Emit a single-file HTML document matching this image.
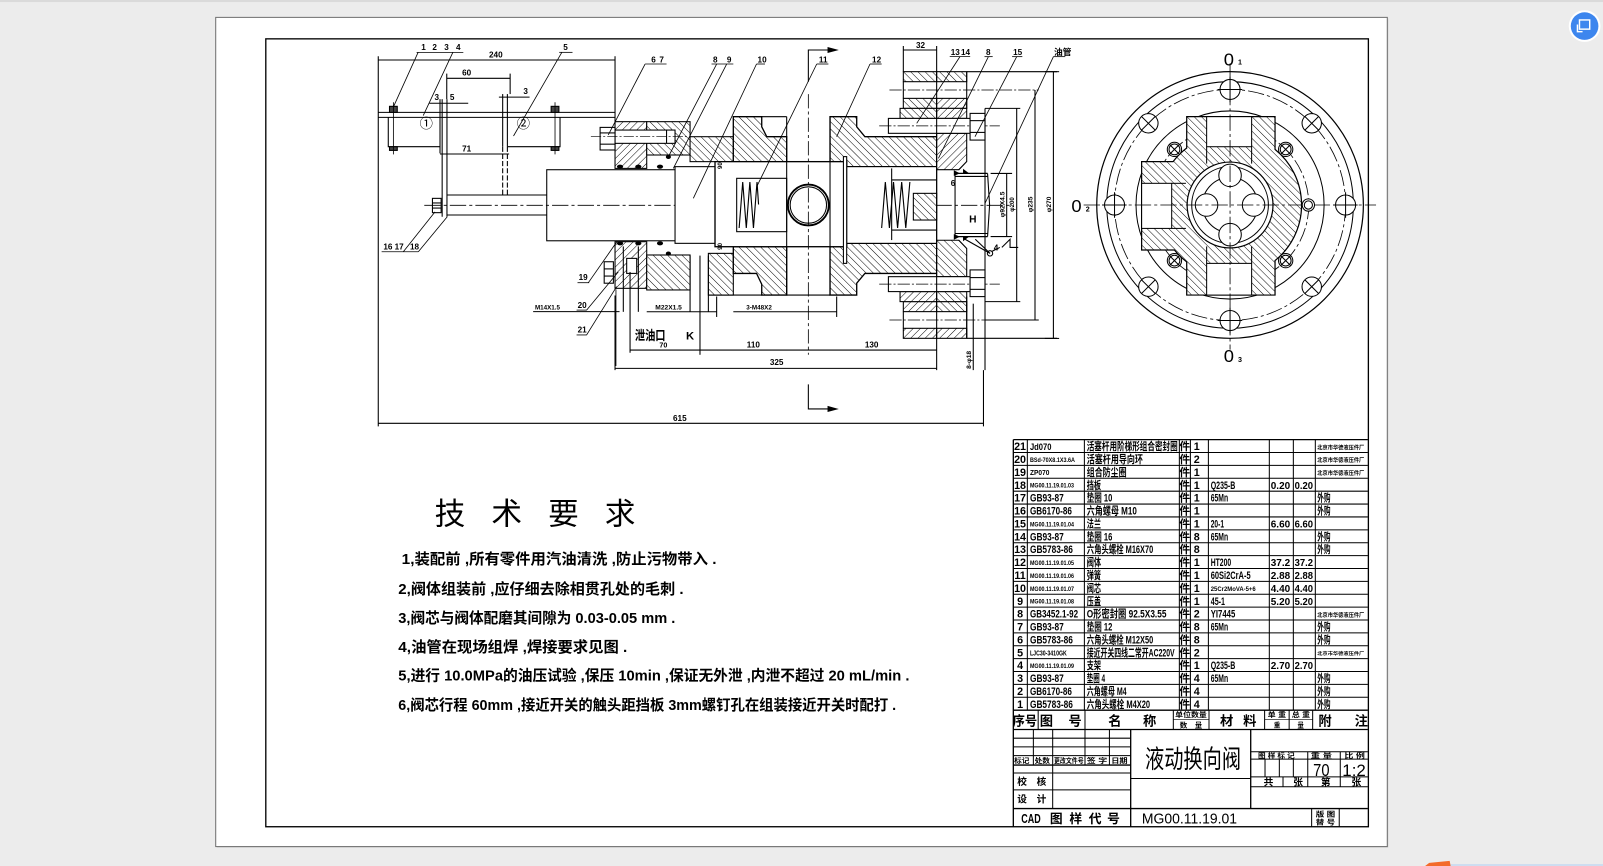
<!DOCTYPE html>
<html><head><meta charset="utf-8"><style>
html,body{margin:0;padding:0;background:#ececec;overflow:hidden}
svg{display:block}
.t{font-family:"Liberation Sans","Noto Sans CJK SC",sans-serif;font-weight:bold;fill:#000;stroke:none}
.n{font-family:"Liberation Sans","Noto Sans CJK SC",sans-serif;font-weight:normal;fill:#000;stroke:none}
</style></head><body>
<svg width="1603" height="866" viewBox="0 0 1568 847" preserveAspectRatio="none" xmlns="http://www.w3.org/2000/svg">
<defs>
<pattern id="hA" width="5" height="5" patternUnits="userSpaceOnUse" patternTransform="rotate(45)"><rect width="5" height="5" fill="#fff"/><line x1="0" y1="0" x2="0" y2="5" stroke="#000" stroke-width="0.95"/></pattern>
<pattern id="hB" width="5" height="5" patternUnits="userSpaceOnUse" patternTransform="rotate(-45)"><rect width="5" height="5" fill="#fff"/><line x1="0" y1="0" x2="0" y2="5" stroke="#000" stroke-width="0.95"/></pattern>
</defs>

<rect x="0" y="0" width="1568" height="847" fill="#ececec"/>
<rect x="0" y="0" width="1568" height="2" fill="#dadada"/>
<!-- page -->
<rect x="212" y="18" width="1146" height="811" fill="#cfcfcf"/>
<rect x="211" y="17" width="1146" height="811" fill="#fff" stroke="#707070" stroke-width="1"/>
<!-- inner frame -->
<rect x="260" y="38" width="1078.5" height="770.6" fill="none" stroke="#000" stroke-width="1.3"/>

<!-- icon top right -->
<circle cx="1550" cy="25.5" r="15.5" fill="#fff"/>
<circle cx="1550" cy="25.5" r="13.5" fill="#3d86ee"/>
<rect x="1545" y="19.5" width="10" height="9" fill="none" stroke="#fff" stroke-width="1.4"/>
<path d="M1543,24 V31 H1548" fill="none" stroke="#fff" stroke-width="1.4"/>
<!-- bottom decorations -->
<polygon points="1394,847 1398,844 1418,842 1419,847" fill="#f36b2a"/>
<line x1="1419" y1="846" x2="1568" y2="846" stroke="#bcd4f2" stroke-width="1.2"/>

<!-- ================= MAIN SECTION VIEW ================= -->
<g stroke="#000" fill="none" stroke-width="1.05">
<!-- overall dims -->
<line x1="370" y1="58.7" x2="601.6" y2="58.7"/>
<line x1="370" y1="55" x2="370" y2="417"/>
<line x1="601.6" y1="55" x2="601.6" y2="119"/>
<line x1="370" y1="414" x2="962" y2="414"/>
<line x1="962" y1="362" x2="962" y2="417"/>

<!-- left switch bracket -->
<line x1="370" y1="109.9" x2="601.6" y2="109.9"/>
<line x1="370" y1="114.8" x2="601.6" y2="114.8"/>
<polyline points="379.8,114.8 379.8,143.5 430.4,143.5"/>
<polyline points="496.3,143.5 547.8,143.5 547.8,114.8"/>
<line x1="430.4" y1="97" x2="430.4" y2="150"/>
<line x1="432.5" y1="97" x2="432.5" y2="212"/>
<line x1="437.2" y1="97" x2="437.2" y2="212"/>
<line x1="491.7" y1="92" x2="491.7" y2="143.5"/>
<line x1="496.3" y1="92" x2="496.3" y2="143.5"/>
<line x1="491.7" y1="143.5" x2="491.7" y2="190.7" stroke-dasharray="5,2"/>
<line x1="496.3" y1="143.5" x2="496.3" y2="190.7" stroke-dasharray="5,2"/>
<line x1="437" y1="76.6" x2="499" y2="76.6"/>
<line x1="437" y1="72" x2="437" y2="97"/><line x1="499" y1="72" x2="499" y2="92"/>
<line x1="430.4" y1="150.6" x2="498" y2="150.6"/>
<line x1="420" y1="101" x2="458" y2="101"/>
<line x1="488" y1="95" x2="518" y2="95"/>
<!-- bolts 1-4 -->
<rect x="381" y="104" width="7.6" height="5.9" fill="#444"/>
<rect x="381" y="143.5" width="7.6" height="3.6" fill="#444"/>
<line x1="384.8" y1="100" x2="384.8" y2="151" stroke-width="0.8"/>
<rect x="539.1" y="104" width="7.6" height="5.9" fill="#444"/>
<rect x="539.1" y="143.5" width="7.6" height="3.6" fill="#444"/>
<line x1="542.9" y1="100" x2="542.9" y2="151" stroke-width="0.8"/>
<!-- rod & lower bracket -->
<line x1="437" y1="190.7" x2="534.8" y2="190.7"/>
<line x1="437" y1="210.3" x2="534.8" y2="210.3"/>
<rect x="423" y="194" width="8.5" height="14" fill="#fff"/>
<line x1="423" y1="198.5" x2="431.5" y2="198.5"/><line x1="423" y1="203.5" x2="431.5" y2="203.5"/>
<rect x="534.8" y="166" width="125.5" height="69.5" fill="#fff"/>
<line x1="415" y1="200.8" x2="990" y2="200.8" stroke-dasharray="16,3,3,3" stroke-width="0.8"/>

<!-- body upper -->
<rect x="601.6" y="119" width="31" height="45.7" fill="url(#hA)"/>
<rect x="632.6" y="119" width="42.4" height="32.6" fill="url(#hB)"/>
<rect x="675" y="133.7" width="42.3" height="24.4" fill="url(#hB)"/>
<path d="M717.3,114.1 H745.1 V124 L750,133.7 H769.5 V158.1 H717.3 Z" fill="url(#hB)" stroke-width="1.3"/>
<path d="M811.9,114.1 H838 V124 L846,133.7 H916.2 V163 H828.2 V158.1 H811.9 Z" fill="url(#hB)" stroke-width="1.3"/>
<line x1="745.1" y1="114.1" x2="769.5" y2="114.1"/>
<!-- bolt 6/7 -->
<rect x="601.6" y="127.2" width="58.7" height="13" fill="#fff"/>
<line x1="652" y1="127.2" x2="652" y2="140.2"/>
<rect x="587" y="124.6" width="14.6" height="22.1" fill="#fff"/>
<line x1="587" y1="130" x2="601.6" y2="130"/><line x1="587" y1="141" x2="601.6" y2="141"/>
<line x1="578" y1="133.7" x2="672" y2="133.7" stroke-dasharray="10,2,2,2" stroke-width="0.7"/>
<!-- body lower -->
<rect x="601.6" y="236.4" width="31" height="45.6" fill="url(#hA)"/>
<rect x="632.6" y="249.4" width="42.4" height="34.2" fill="url(#hB)"/>
<rect x="692.9" y="247.8" width="24.4" height="40.8" fill="url(#hB)"/>
<path d="M717.3,241.3 H769.5 V288.6 H745.1 V278 L740,267.4 H717.3 Z" fill="url(#hB)" stroke-width="1.3"/>
<path d="M811.9,241.3 H828.2 V238 H916.2 V267.4 H846 L838,277 V288.6 H811.9 Z" fill="url(#hB)" stroke-width="1.3"/>
<line x1="692.9" y1="288.6" x2="745.1" y2="288.6"/>
<line x1="769.5" y1="288.6" x2="811.9" y2="288.6"/>
<!-- lower left nut / drain -->
<rect x="591" y="256" width="9" height="21" fill="#fff"/>
<line x1="591" y1="263" x2="600" y2="263"/><line x1="591" y1="270" x2="600" y2="270"/>
<rect x="613" y="252.7" width="9.8" height="14.7" fill="#fff"/>
<line x1="609.7" y1="241" x2="609.7" y2="305"/>
<line x1="616.3" y1="266" x2="616.3" y2="345"/>
<line x1="624.4" y1="241" x2="624.4" y2="305"/>
<line x1="675" y1="250" x2="675" y2="305"/>
<line x1="684.7" y1="250" x2="684.7" y2="347"/>
<line x1="692.9" y1="250" x2="692.9" y2="305"/>
<!-- seals -->
<g fill="#000" stroke="none">
<ellipse cx="606.5" cy="163" rx="3" ry="2"/><ellipse cx="624.4" cy="163" rx="3" ry="2"/><ellipse cx="645.6" cy="163" rx="3" ry="2"/><ellipse cx="653.8" cy="153.5" rx="2.5" ry="2"/>
<ellipse cx="606.5" cy="238" rx="3" ry="2"/><ellipse cx="624.4" cy="238" rx="3" ry="2"/><ellipse cx="645.6" cy="238" rx="3" ry="2"/><ellipse cx="653.8" cy="248" rx="2.5" ry="2"/>
<circle cx="917.5" cy="154" r="1.7"/><circle cx="917.5" cy="247" r="1.7"/>
</g>
<!-- rod end / spool -->
<rect x="660.3" y="163" width="39.1" height="75" fill="#fff"/>
<rect x="699.4" y="158.1" width="128.8" height="83.2" fill="#fff" stroke-width="1.3"/>
<rect x="720.6" y="174.4" width="48.9" height="52.2" fill="none"/>
<rect x="828.2" y="163" width="88" height="75" fill="#fff"/>
<rect x="825" y="153.2" width="3.2" height="104.4" fill="#fff"/>
<line x1="872.2" y1="164.7" x2="872.2" y2="234.8"/>
<line x1="872.2" y1="176" x2="916.2" y2="176"/><line x1="872.2" y1="225" x2="916.2" y2="225"/>
<rect x="893.4" y="189.1" width="22.8" height="26.1" fill="url(#hB)"/>
<line x1="769.5" y1="114.1" x2="769.5" y2="288.6"/>
<line x1="811.9" y1="114.1" x2="811.9" y2="288.6"/>
<polyline points="723,223 726.5,178 730,223 733.5,178 737,223 740.5,178 742,200" stroke-width="1.1"/>
<polyline points="862.4,223 866,178 870,223 874,178 878,223 882,178 886,223 890,178" stroke-width="1.1"/>
<circle cx="790.7" cy="200.5" r="20" fill="#fff" stroke-width="1.8"/>
<circle cx="790.7" cy="200.5" r="17.8"/>
<line x1="790.7" y1="92" x2="790.7" y2="347" stroke-dasharray="14,3,3,3" stroke-width="0.8"/>
<!-- K view arrows -->
<polyline points="790.7,80 790.7,48.9 811,48.9"/>
<polygon points="818.5,48.9 810,46.6 810,51.2" fill="#000"/>
<polyline points="790.7,376 790.7,400 811,400"/>
<polygon points="818.5,400 810,397.7 810,402.3" fill="#000"/>

<!-- right flange (upper, mirrored) -->
<g id="rf">
<rect x="883.6" y="70.1" width="32.6" height="9.8" fill="url(#hB)"/>
<rect x="916.2" y="70.1" width="29.4" height="9.8" fill="url(#hB)"/>
<rect x="883.6" y="96.2" width="32.6" height="9.8" fill="url(#hB)"/>
<rect x="916.2" y="96.2" width="29.4" height="9.8" fill="url(#hA)"/>
<line x1="883.6" y1="79.9" x2="883.6" y2="96.2"/>
<line x1="945.6" y1="70.1" x2="945.6" y2="106"/>
<line x1="870" y1="88" x2="1016" y2="88" stroke-dasharray="12,2,2,2" stroke-width="0.7"/>
<rect x="880.4" y="106" width="35.8" height="9.8" fill="url(#hB)"/>
<rect x="916.2" y="106" width="29.4" height="9.8" fill="url(#hA)"/>
<path d="M916.2,130.4 H945.6 V158 L938,166 H916.2 Z" fill="url(#hA)"/>
<rect x="869" y="115.8" width="79.9" height="14.6" fill="#fff"/>
<line x1="860" y1="123.1" x2="978" y2="123.1" stroke-dasharray="12,2,2,2" stroke-width="0.7"/>
<rect x="948.9" y="110.9" width="14.6" height="26.1" fill="#fff"/>
<line x1="948.9" y1="118" x2="963.5" y2="118"/><line x1="948.9" y1="129.5" x2="963.5" y2="129.5"/>
<line x1="945.6" y1="70.1" x2="1034" y2="70.1"/>
<line x1="963.5" y1="106" x2="998" y2="106"/>
<line x1="934.2" y1="169.6" x2="966" y2="169.6" stroke-width="1.2"/>
<line x1="934.2" y1="172.6" x2="966" y2="172.6"/>
<line x1="934.2" y1="169.6" x2="934.2" y2="200.5"/>
<polygon points="933,166.5 939,169.6 933,172" fill="#000" stroke="none"/>
<polygon points="942,165 948,169.6 942,169.6" fill="#000" stroke="none"/>
<line x1="966" y1="169.6" x2="968" y2="200.5"/>
<line x1="969" y1="169.6" x2="990" y2="169.6"/>
</g>
<use href="#rf" transform="matrix(1 0 0 -1 0 401)"/>
<line x1="916.2" y1="45" x2="916.2" y2="362"/>
<line x1="963.5" y1="106" x2="963.5" y2="362"/>
<line x1="883.6" y1="45" x2="883.6" y2="70.1"/>
<line x1="883.6" y1="48.9" x2="916.2" y2="48.9"/>
<line x1="945.6" y1="290" x2="945.6" y2="330"/>
<line x1="952" y1="297" x2="952" y2="362"/>
<line x1="994.5" y1="106" x2="994.5" y2="295"/>
<line x1="1012.4" y1="88" x2="1012.4" y2="313"/>
<line x1="1030.4" y1="70.1" x2="1030.4" y2="331"/>
<line x1="984.7" y1="169.6" x2="984.7" y2="231.5"/>
<line x1="963.5" y1="313" x2="1016" y2="313"/>
<!-- weld symbol 4 -->
<circle cx="968.4" cy="247.8" r="2.6" fill="#fff"/>
<line x1="954" y1="234" x2="968.4" y2="247.8"/>
<line x1="944" y1="234" x2="968.4" y2="247.8"/>
<line x1="970" y1="246" x2="978" y2="242"/>
<polyline points="980,242 988,234 988,242 996,242"/>

<!-- bottom dims -->
<line x1="616.3" y1="342.4" x2="916.2" y2="342.4"/>
<line x1="601.6" y1="289" x2="601.6" y2="362"/>
<line x1="601.6" y1="360.3" x2="916.2" y2="360.3"/>
<line x1="521.5" y1="304.8" x2="606" y2="304.8"/>
<line x1="632.6" y1="304.9" x2="701" y2="304.9"/>
<line x1="717.3" y1="304.9" x2="818.4" y2="304.9"/>
<line x1="701" y1="290" x2="701" y2="310"/><line x1="818.4" y1="290" x2="818.4" y2="310"/>

<!-- leaders -->
<g stroke-width="0.8">
<line x1="407.5" y1="51.2" x2="453.2" y2="51.2"/>
<line x1="409" y1="51.2" x2="384.8" y2="104.6"/>
<line x1="443" y1="51.2" x2="414" y2="113"/>
<line x1="547" y1="51.2" x2="560" y2="51.2"/>
<line x1="549.6" y1="51.2" x2="502.3" y2="133"/>
<line x1="373.3" y1="246.2" x2="409.2" y2="246.2"/>
<line x1="394.5" y1="246.2" x2="425.5" y2="207.2"/>
<line x1="409.2" y1="246.2" x2="437.5" y2="212"/>
<line x1="564.9" y1="276.5" x2="576.3" y2="276.5"/>
<line x1="575.5" y1="276.5" x2="603.3" y2="236.6"/>
<line x1="564" y1="303.3" x2="574" y2="303.3"/>
<line x1="573.8" y1="303.3" x2="604.8" y2="265.9"/>
<line x1="564" y1="327.6" x2="574" y2="327.6"/>
<line x1="573.8" y1="327.6" x2="603.2" y2="280.3"/>
<line x1="602.5" y1="283" x2="602.5" y2="358"/>
<line x1="631" y1="62.6" x2="652" y2="62.6"/>
<line x1="631" y1="62.6" x2="595" y2="132"/>
<line x1="696" y1="62.6" x2="717.3" y2="62.6"/>
<line x1="701" y1="62.6" x2="653.8" y2="153.2"/>
<line x1="710.8" y1="62.6" x2="658.6" y2="164.7"/>
<line x1="740" y1="62.6" x2="748.3" y2="62.6"/>
<line x1="740" y1="62.6" x2="678.2" y2="194"/>
<line x1="798.9" y1="62.6" x2="810.3" y2="62.6"/>
<line x1="798.9" y1="62.6" x2="740.2" y2="182.6"/>
<line x1="851" y1="62.6" x2="862.4" y2="62.6"/>
<line x1="851" y1="62.6" x2="818.4" y2="133.7"/>
<line x1="929" y1="55.4" x2="949" y2="55.4"/>
<line x1="939" y1="55.4" x2="896.7" y2="120.6"/>
<line x1="963" y1="55.4" x2="971" y2="55.4"/>
<line x1="966.8" y1="55.4" x2="917.9" y2="154.9"/>
<line x1="990" y1="55.4" x2="1000" y2="55.4"/>
<line x1="994.5" y1="55.4" x2="953.7" y2="133.7"/>
<line x1="1030.4" y1="55.4" x2="1042" y2="55.4"/>
<line x1="1030.4" y1="55.4" x2="963.5" y2="198.9"/>
</g>
</g>

<!-- drawing labels -->
<g class="t" font-size="8">
<text x="485" y="56" text-anchor="middle">240</text>
<text x="412" y="49">1</text><text x="423" y="49">2</text><text x="434.5" y="49">3</text><text x="446" y="49">4</text>
<text x="551" y="49">5</text>
<text x="456.5" y="74" text-anchor="middle">60</text>
<text x="456.5" y="148" text-anchor="middle">71</text>
<text x="425" y="98">3</text><text x="440" y="98">5</text>
<text x="512" y="92">3</text>
<text x="375" y="244">16</text><text x="386" y="244">17</text><text x="401" y="244">18</text>
<text x="566" y="274">19</text><text x="565" y="301">20</text><text x="565" y="325">21</text>
<text x="523.3" y="302.5" font-size="6.5" textLength="24.5" lengthAdjust="spacingAndGlyphs">M14X1.5</text>
<text x="641" y="302.5" font-size="6.5" textLength="26" lengthAdjust="spacingAndGlyphs">M22X1.5</text>
<text x="730" y="302.5" font-size="6.5" textLength="25" lengthAdjust="spacingAndGlyphs">3-M48X2</text>
<text x="637" y="61">6</text><text x="645" y="61">7</text>
<text x="697.5" y="61">8</text><text x="711" y="61">9</text>
<text x="741" y="61">10</text>
<text x="801" y="61">11</text>
<text x="853" y="61">12</text>
<text x="896" y="47">32</text>
<text x="930" y="54">13</text><text x="940" y="54">14</text>
<text x="964.5" y="54">8</text>
<text x="991" y="54">15</text>
<text x="1031" y="54" font-size="8.5">油管</text>
<text x="648.9" y="340" text-anchor="middle" font-size="7">70</text>
<text x="736.9" y="340" text-anchor="middle">110</text>
<text x="852.6" y="340" text-anchor="middle">130</text>
<text x="759.7" y="357" text-anchor="middle">325</text>
<text x="665" y="412" text-anchor="middle">615</text>
<text x="948" y="217.5" font-size="10">H</text>
<text x="930" y="182" font-size="8">6</text>
<text x="972" y="245" font-size="8">4</text>
<text x="706" y="162" font-size="6" transform="rotate(-90 706 162)" text-anchor="middle">90</text>
<text x="706" y="241" font-size="6" transform="rotate(-90 706 241)" text-anchor="middle">90</text>
<text x="982.5" y="200" font-size="6.5" transform="rotate(-90 982.5 200)" text-anchor="middle">φ92X4.5</text>
<text x="992" y="200" font-size="6" transform="rotate(-90 992 200)" text-anchor="middle">φ200</text>
<text x="1010" y="200" font-size="6.5" transform="rotate(-90 1010 200)" text-anchor="middle">φ235</text>
<text x="1028" y="200" font-size="6.5" transform="rotate(-90 1028 200)" text-anchor="middle">φ270</text>
<text x="950" y="352" font-size="6.5" transform="rotate(-90 950 352)" text-anchor="middle">8-φ18</text>
</g>
<text class="t" x="621" y="332.5" font-size="13" textLength="30" lengthAdjust="spacingAndGlyphs">泄油口</text>
<text class="t" x="671" y="332" font-size="11">K</text>
<text class="n" x="417" y="125" font-size="13" text-anchor="middle">①</text>
<text class="n" x="512" y="125" font-size="13" text-anchor="middle">②</text>

<!-- ================= RIGHT VIEW ================= -->
<g stroke="#000" fill="none" stroke-width="1">
<circle cx="1203.2" cy="200.5" r="130.4" stroke-width="1.2"/>
<circle cx="1203.2" cy="200.5" r="120.6"/>
<circle cx="1203.2" cy="200.5" r="113" stroke-dasharray="16,3,3,3" stroke-width="0.8"/>
<circle cx="1203.2" cy="200.5" r="92"/>
<circle cx="1203.2" cy="200.5" r="77" stroke-dasharray="14,3,3,3" stroke-width="0.8"/>
<path d="M1160.8,114.1 H1247.2 V146.1 A70,70 0 0 1 1247.2,254.9 V288.6 H1160.8 V256.2 A70,70 0 0 1 1148.8,244.5 H1116.7 V158.1 H1147.5 A70,70 0 0 1 1160.8,144.8 Z" fill="url(#hB)" stroke-width="1.2"/>
<rect x="1180.3" y="114.1" width="44" height="29.4" fill="#fff"/>
<rect x="1180.3" y="257.6" width="44" height="31" fill="#fff"/>
<line x1="1180.3" y1="143.5" x2="1180.3" y2="160"/><line x1="1224.3" y1="143.5" x2="1224.3" y2="160"/>
<line x1="1180.3" y1="241" x2="1180.3" y2="257.6"/><line x1="1224.3" y1="241" x2="1224.3" y2="257.6"/>
<rect x="1116.7" y="179.3" width="29.4" height="44.1" fill="#fff"/>
<line x1="1146.1" y1="179.3" x2="1160" y2="179.3"/><line x1="1146.1" y1="223.4" x2="1160" y2="223.4"/>
<circle cx="1203.2" cy="200.5" r="42" fill="#fff" stroke-width="1.2"/>
<circle cx="1203.2" cy="200.5" r="37.5"/>
<circle cx="1203.2" cy="200.5" r="27"/>
<circle cx="1203.2" cy="171.5" r="11" fill="#fff"/>
<circle cx="1203.2" cy="229.5" r="11" fill="#fff"/>
<circle cx="1180.2" cy="200.5" r="11" fill="#fff"/>
<circle cx="1226.2" cy="200.5" r="11" fill="#fff"/>
<line x1="1060" y1="200.5" x2="1346" y2="200.5" stroke-dasharray="16,3,3,3" stroke-width="0.8"/>
<line x1="1203.2" y1="62" x2="1203.2" y2="342" stroke-dasharray="16,3,3,3" stroke-width="0.8"/>
<!-- holes on axes -->
<circle cx="1203.2" cy="87.5" r="9.8" fill="#fff"/><line x1="1191" y1="87.5" x2="1215" y2="87.5"/><line x1="1203.2" y1="75" x2="1203.2" y2="100"/>
<circle cx="1203.2" cy="313.5" r="9.8" fill="#fff"/><line x1="1191" y1="313.5" x2="1215" y2="313.5"/><line x1="1203.2" y1="301" x2="1203.2" y2="326"/>
<circle cx="1090.2" cy="200.5" r="9.8" fill="#fff"/><line x1="1078" y1="200.5" x2="1102" y2="200.5"/><line x1="1090.2" y1="188" x2="1090.2" y2="213"/>
<circle cx="1316.2" cy="200.5" r="9.8" fill="#fff"/><line x1="1304" y1="200.5" x2="1328" y2="200.5"/><line x1="1316.2" y1="188" x2="1316.2" y2="213"/>
<!-- diagonal holes -->
<g>
<circle cx="1283.1" cy="120.6" r="9.5" fill="#fff"/><path d="M1276.4,113.9 L1289.8,127.3 M1289.8,113.9 L1276.4,127.3"/>
<circle cx="1123.3" cy="120.6" r="9.5" fill="#fff"/><path d="M1116.6,113.9 L1130,127.3 M1130,113.9 L1116.6,127.3"/>
<circle cx="1123.3" cy="280.4" r="9.5" fill="#fff"/><path d="M1116.6,273.7 L1130,287.1 M1130,273.7 L1116.6,287.1"/>
<circle cx="1283.1" cy="280.4" r="9.5" fill="#fff"/><path d="M1276.4,273.7 L1289.8,287.1 M1289.8,273.7 L1276.4,287.1"/>
</g>
<!-- small holes -->
<g>
<circle cx="1257.6" cy="146.1" r="7" fill="#fff"/><circle cx="1257.6" cy="146.1" r="5.3"/><path d="M1252.6,141.1 L1262.6,151.1 M1262.6,141.1 L1252.6,151.1"/>
<circle cx="1148.8" cy="146.1" r="7" fill="#fff"/><circle cx="1148.8" cy="146.1" r="5.3"/><path d="M1143.8,141.1 L1153.8,151.1 M1153.8,141.1 L1143.8,151.1"/>
<circle cx="1148.8" cy="254.9" r="7" fill="#fff"/><circle cx="1148.8" cy="254.9" r="5.3"/><path d="M1143.8,249.9 L1153.8,259.9 M1153.8,249.9 L1143.8,259.9"/>
<circle cx="1257.6" cy="254.9" r="7" fill="#fff"/><circle cx="1257.6" cy="254.9" r="5.3"/><path d="M1252.6,249.9 L1262.6,259.9 M1262.6,249.9 L1252.6,259.9"/>
</g>
<circle cx="1279.8" cy="200.5" r="6" fill="#fff"/><circle cx="1279.8" cy="200.5" r="4"/>
<line x1="1022" y1="70.1" x2="1036" y2="70.1"/><line x1="1022" y1="331" x2="1036" y2="331"/>
</g>
<g class="n">
<text x="1197" y="64" font-size="17" textLength="10" lengthAdjust="spacingAndGlyphs">0</text><text x="1211" y="63" font-size="7" font-weight="bold">1</text>
<text x="1048" y="207.5" font-size="17" textLength="10" lengthAdjust="spacingAndGlyphs">0</text><text x="1062" y="207" font-size="7" font-weight="bold">2</text>
<text x="1197" y="354" font-size="17" textLength="10" lengthAdjust="spacingAndGlyphs">0</text><text x="1211" y="354" font-size="7" font-weight="bold">3</text>
</g>

<!-- ================= TECH REQUIREMENTS ================= -->
<g class="n" font-size="30" text-anchor="middle" font-family="'Noto Sans CJK SC',sans-serif">
<text x="440.2" y="513">技</text><text x="495.6" y="513">术</text><text x="551.1" y="513">要</text><text x="606.5" y="513">求</text>
</g>
<g class="t" font-size="14.5">
<text x="392.9" y="551.5" textLength="308" lengthAdjust="spacingAndGlyphs">1,装配前 ,所有零件用汽油清洗 ,防止污物带入 .</text>
<text x="389.6" y="580.8" textLength="279" lengthAdjust="spacingAndGlyphs">2,阀体组装前 ,应仔细去除相贯孔处的毛刺 .</text>
<text x="389.6" y="609.2" textLength="271" lengthAdjust="spacingAndGlyphs">3,阀芯与阀体配磨其间隙为 0.03-0.05 mm .</text>
<text x="389.6" y="637.9" textLength="224" lengthAdjust="spacingAndGlyphs">4,油管在现场组焊 ,焊接要求见图 .</text>
<text x="389.6" y="665.6" textLength="500" lengthAdjust="spacingAndGlyphs">5,进行 10.0MPa的油压试验 ,保压 10min ,保证无外泄 ,内泄不超过 20 mL/min .</text>
<text x="389.6" y="694.3" textLength="487" lengthAdjust="spacingAndGlyphs">6,阀芯行程 60mm ,接近开关的触头距挡板 3mm螺钉孔在组装接近开关时配打 .</text>
</g>

<!-- ================= PARTS TABLE ================= -->
<g stroke="#000" stroke-width="1" fill="none">
<line x1="991.2" y1="430" x2="1338" y2="430" stroke-width="1.3"/>
<line x1="991.2" y1="442.6" x2="1338" y2="442.6"/><line x1="991.2" y1="455.2" x2="1338" y2="455.2"/>
<line x1="991.2" y1="467.8" x2="1338" y2="467.8"/><line x1="991.2" y1="480.4" x2="1338" y2="480.4"/>
<line x1="991.2" y1="493" x2="1338" y2="493"/><line x1="991.2" y1="505.6" x2="1338" y2="505.6"/>
<line x1="991.2" y1="518.2" x2="1338" y2="518.2"/><line x1="991.2" y1="530.8" x2="1338" y2="530.8"/>
<line x1="991.2" y1="543.4" x2="1338" y2="543.4"/><line x1="991.2" y1="556" x2="1338" y2="556"/>
<line x1="991.2" y1="568.6" x2="1338" y2="568.6"/><line x1="991.2" y1="581.2" x2="1338" y2="581.2"/>
<line x1="991.2" y1="593.8" x2="1338" y2="593.8"/><line x1="991.2" y1="606.4" x2="1338" y2="606.4"/>
<line x1="991.2" y1="619" x2="1338" y2="619"/><line x1="991.2" y1="631.6" x2="1338" y2="631.6"/>
<line x1="991.2" y1="644.2" x2="1338" y2="644.2"/><line x1="991.2" y1="656.8" x2="1338" y2="656.8"/>
<line x1="991.2" y1="669.4" x2="1338" y2="669.4"/><line x1="991.2" y1="682" x2="1338" y2="682"/>
<line x1="991.2" y1="694.6" x2="1338" y2="694.6" stroke-width="1.3"/>
<line x1="991.2" y1="713.5" x2="1338" y2="713.5" stroke-width="1.3"/>
<line x1="991.2" y1="430" x2="991.2" y2="808.6" stroke-width="1.3"/>
<line x1="1004.9" y1="430" x2="1004.9" y2="694.6"/>
<line x1="1060.7" y1="430" x2="1060.7" y2="694.6"/>
<line x1="1153.6" y1="430" x2="1153.6" y2="694.6"/>
<line x1="1164.4" y1="430" x2="1164.4" y2="694.6"/>
<line x1="1182" y1="430" x2="1182" y2="694.6"/>
<line x1="1241.6" y1="430" x2="1241.6" y2="694.6"/>
<line x1="1265.1" y1="430" x2="1265.1" y2="694.6"/>
<line x1="1286.6" y1="430" x2="1286.6" y2="694.6"/>
<!-- header row -->
<line x1="1015.5" y1="694.6" x2="1015.5" y2="713.5"/>
<line x1="1061.3" y1="694.6" x2="1061.3" y2="713.5"/>
<line x1="1147.7" y1="694.6" x2="1147.7" y2="713.5"/>
<line x1="1182.6" y1="694.6" x2="1182.6" y2="713.5"/>
<line x1="1237" y1="694.6" x2="1237" y2="713.5"/>
<line x1="1261" y1="694.6" x2="1261" y2="713.5"/>
<line x1="1284" y1="694.6" x2="1284" y2="713.5"/>
<line x1="1147.7" y1="703.5" x2="1182.6" y2="703.5" stroke-width="0.6"/>
<line x1="1237" y1="703.5" x2="1284" y2="703.5" stroke-width="0.6"/>
<!-- lower left block -->
<line x1="991.2" y1="722" x2="1106" y2="722"/>
<line x1="991.2" y1="730.5" x2="1106" y2="730.5"/>
<line x1="991.2" y1="739" x2="1106" y2="739"/>
<line x1="991.2" y1="748.3" x2="1106" y2="748.3" stroke-width="1.3"/>
<line x1="991.2" y1="756" x2="1106" y2="756"/>
<line x1="991.2" y1="772.5" x2="1106" y2="772.5"/>
<line x1="991.2" y1="790.8" x2="1338" y2="790.8" stroke-width="1.3"/>
<line x1="1010.8" y1="713.5" x2="1010.8" y2="748.3"/>
<line x1="1029.7" y1="713.5" x2="1029.7" y2="790.8"/>
<line x1="1061.3" y1="713.5" x2="1061.3" y2="748.3"/>
<line x1="1085.2" y1="713.5" x2="1085.2" y2="748.3"/>
<line x1="1106" y1="713.5" x2="1106" y2="808.6" stroke-width="1.3"/>
<line x1="1106" y1="761.4" x2="1223.4" y2="761.4"/>
<line x1="1223.4" y1="713.5" x2="1223.4" y2="790.8" stroke-width="1.3"/>
<!-- right block -->
<line x1="1223.4" y1="735.3" x2="1338" y2="735.3"/>
<line x1="1223.4" y1="742.5" x2="1338" y2="742.5"/>
<line x1="1223.4" y1="759.8" x2="1338" y2="759.8"/>
<line x1="1223.4" y1="769.5" x2="1338" y2="769.5"/>
<line x1="1237.4" y1="742.5" x2="1237.4" y2="759.8"/>
<line x1="1251.4" y1="742.5" x2="1251.4" y2="759.8"/>
<line x1="1265.1" y1="742.5" x2="1265.1" y2="759.8"/>
<line x1="1279.2" y1="735.3" x2="1279.2" y2="769.5"/>
<line x1="1311" y1="735.3" x2="1311" y2="769.5"/>
<line x1="1255" y1="759.8" x2="1255" y2="769.5"/>
<!-- CAD row -->
<line x1="1283" y1="790.8" x2="1283" y2="808.6"/>
<line x1="1310" y1="790.8" x2="1310" y2="808.6"/>
</g>

<g class="t" font-size="10.5">
<!-- numbers -->
<g text-anchor="middle">
<text x="997.8" y="440.3">21</text><text x="997.8" y="452.9">20</text><text x="997.8" y="465.5">19</text><text x="997.8" y="478.1">18</text>
<text x="997.8" y="490.7">17</text><text x="997.8" y="503.3">16</text><text x="997.8" y="515.9">15</text><text x="997.8" y="528.5">14</text>
<text x="997.8" y="541.1">13</text><text x="997.8" y="553.7">12</text><text x="997.8" y="566.3">11</text><text x="997.8" y="578.9">10</text>
<text x="997.8" y="591.5">9</text><text x="997.8" y="604.1">8</text><text x="997.8" y="616.7">7</text><text x="997.8" y="629.3">6</text>
<text x="997.8" y="641.9">5</text><text x="997.8" y="654.5">4</text><text x="997.8" y="667.1">3</text><text x="997.8" y="679.7">2</text><text x="997.8" y="692.3">1</text>
</g>
<!-- codes -->
<text x="1007.5" y="440.3" textLength="21" lengthAdjust="spacingAndGlyphs" font-size="9">Jd070</text>
<text x="1007.5" y="451.8" textLength="44" lengthAdjust="spacingAndGlyphs" font-size="6">BSd-70X8.1X3.6A</text>
<text x="1007.5" y="464.5" textLength="19" lengthAdjust="spacingAndGlyphs" font-size="7">ZP070</text>
<text x="1007.5" y="477" textLength="43" lengthAdjust="spacingAndGlyphs" font-size="6.5">MG00.11.19.01.03</text>
<text x="1007.5" y="490.7" textLength="33" lengthAdjust="spacingAndGlyphs">GB93-87</text>
<text x="1007.5" y="503.3" textLength="41" lengthAdjust="spacingAndGlyphs">GB6170-86</text>
<text x="1007.5" y="514.8" textLength="43" lengthAdjust="spacingAndGlyphs" font-size="6.5">MG00.11.19.01.04</text>
<text x="1007.5" y="528.5" textLength="33" lengthAdjust="spacingAndGlyphs">GB93-87</text>
<text x="1007.5" y="541.1" textLength="42" lengthAdjust="spacingAndGlyphs">GB5783-86</text>
<text x="1007.5" y="552.6" textLength="43" lengthAdjust="spacingAndGlyphs" font-size="6.5">MG00.11.19.01.05</text>
<text x="1007.5" y="565.2" textLength="43" lengthAdjust="spacingAndGlyphs" font-size="6.5">MG00.11.19.01.06</text>
<text x="1007.5" y="577.8" textLength="43" lengthAdjust="spacingAndGlyphs" font-size="6.5">MG00.11.19.01.07</text>
<text x="1007.5" y="590.4" textLength="43" lengthAdjust="spacingAndGlyphs" font-size="6.5">MG00.11.19.01.08</text>
<text x="1007.5" y="604.1" textLength="47" lengthAdjust="spacingAndGlyphs">GB3452.1-92</text>
<text x="1007.5" y="616.7" textLength="33" lengthAdjust="spacingAndGlyphs">GB93-87</text>
<text x="1007.5" y="629.3" textLength="42" lengthAdjust="spacingAndGlyphs">GB5783-86</text>
<text x="1007.5" y="641" textLength="36" lengthAdjust="spacingAndGlyphs" font-size="7.5">LJC30-3410GK</text>
<text x="1007.5" y="653.4" textLength="43" lengthAdjust="spacingAndGlyphs" font-size="6.5">MG00.11.19.01.09</text>
<text x="1007.5" y="667.1" textLength="33" lengthAdjust="spacingAndGlyphs">GB93-87</text>
<text x="1007.5" y="679.7" textLength="41" lengthAdjust="spacingAndGlyphs">GB6170-86</text>
<text x="1007.5" y="692.3" textLength="42" lengthAdjust="spacingAndGlyphs">GB5783-86</text>
<!-- names -->
<text x="1063" y="440.3" textLength="89" lengthAdjust="spacingAndGlyphs">活塞杆用阶梯形组合密封圈</text>
<text x="1063" y="452.9" textLength="55" lengthAdjust="spacingAndGlyphs">活塞杆用导向环</text>
<text x="1063" y="465.5" textLength="39" lengthAdjust="spacingAndGlyphs">组合防尘圈</text>
<text x="1063" y="478.1" textLength="14" lengthAdjust="spacingAndGlyphs">挡板</text>
<text x="1063" y="490.7" textLength="25" lengthAdjust="spacingAndGlyphs">垫圈 10</text>
<text x="1063" y="503.3" textLength="49" lengthAdjust="spacingAndGlyphs">六角螺母 M10</text>
<text x="1063" y="515.9" textLength="14" lengthAdjust="spacingAndGlyphs">法兰</text>
<text x="1063" y="528.5" textLength="25" lengthAdjust="spacingAndGlyphs">垫圈 16</text>
<text x="1063" y="541.1" textLength="65" lengthAdjust="spacingAndGlyphs">六角头螺栓 M16X70</text>
<text x="1063" y="553.7" textLength="14" lengthAdjust="spacingAndGlyphs">阀体</text>
<text x="1063" y="566.3" textLength="14" lengthAdjust="spacingAndGlyphs">弹簧</text>
<text x="1063" y="578.9" textLength="14" lengthAdjust="spacingAndGlyphs">阀芯</text>
<text x="1063" y="591.5" textLength="14" lengthAdjust="spacingAndGlyphs">压盖</text>
<text x="1063" y="604.1" textLength="78" lengthAdjust="spacingAndGlyphs">O形密封圈 92.5X3.55</text>
<text x="1063" y="616.7" textLength="25" lengthAdjust="spacingAndGlyphs">垫圈 12</text>
<text x="1063" y="629.3" textLength="65" lengthAdjust="spacingAndGlyphs">六角头螺栓 M12X50</text>
<text x="1063" y="641.9" textLength="86" lengthAdjust="spacingAndGlyphs">接近开关四线二常开AC220V</text>
<text x="1063" y="654.5" textLength="14" lengthAdjust="spacingAndGlyphs">支架</text>
<text x="1063" y="667.1" textLength="18" lengthAdjust="spacingAndGlyphs">垫圈 4</text>
<text x="1063" y="679.7" textLength="39" lengthAdjust="spacingAndGlyphs">六角螺母 M4</text>
<text x="1063" y="692.3" textLength="62" lengthAdjust="spacingAndGlyphs">六角头螺栓 M4X20</text>
<!-- unit / qty -->
<g text-anchor="middle">
<text x="1158.9" y="440.3">件</text><text x="1158.9" y="452.9">件</text><text x="1158.9" y="465.5">件</text><text x="1158.9" y="478.1">件</text>
<text x="1158.9" y="490.7">件</text><text x="1158.9" y="503.3">件</text><text x="1158.9" y="515.9">件</text><text x="1158.9" y="528.5">件</text>
<text x="1158.9" y="541.1">件</text><text x="1158.9" y="553.7">件</text><text x="1158.9" y="566.3">件</text><text x="1158.9" y="578.9">件</text>
<text x="1158.9" y="591.5">件</text><text x="1158.9" y="604.1">件</text><text x="1158.9" y="616.7">件</text><text x="1158.9" y="629.3">件</text>
<text x="1158.9" y="641.9">件</text><text x="1158.9" y="654.5">件</text><text x="1158.9" y="667.1">件</text><text x="1158.9" y="679.7">件</text><text x="1158.9" y="692.3">件</text>
<text x="1170.6" y="440.3">1</text><text x="1170.6" y="452.9">2</text><text x="1170.6" y="465.5">1</text><text x="1170.6" y="478.1">1</text>
<text x="1170.6" y="490.7">1</text><text x="1170.6" y="503.3">1</text><text x="1170.6" y="515.9">1</text><text x="1170.6" y="528.5">8</text>
<text x="1170.6" y="541.1">8</text><text x="1170.6" y="553.7">1</text><text x="1170.6" y="566.3">1</text><text x="1170.6" y="578.9">1</text>
<text x="1170.6" y="591.5">1</text><text x="1170.6" y="604.1">2</text><text x="1170.6" y="616.7">8</text><text x="1170.6" y="629.3">8</text>
<text x="1170.6" y="641.9">2</text><text x="1170.6" y="654.5">1</text><text x="1170.6" y="667.1">4</text><text x="1170.6" y="679.7">4</text><text x="1170.6" y="692.3">4</text>
</g>
<!-- material -->
<text x="1184.3" y="478.1" textLength="24" lengthAdjust="spacingAndGlyphs">Q235-B</text>
<text x="1184.3" y="490.7" textLength="17" lengthAdjust="spacingAndGlyphs">65Mn</text>
<text x="1184.3" y="515.9" textLength="13" lengthAdjust="spacingAndGlyphs">20-1</text>
<text x="1184.3" y="528.5" textLength="17" lengthAdjust="spacingAndGlyphs">65Mn</text>
<text x="1184.3" y="553.7" textLength="20" lengthAdjust="spacingAndGlyphs">HT200</text>
<text x="1184.3" y="566.3" textLength="39" lengthAdjust="spacingAndGlyphs">60Si2CrA-5</text>
<text x="1184.3" y="577.8" textLength="44" lengthAdjust="spacingAndGlyphs" font-size="6">25Cr2MoVA-5+6</text>
<text x="1184.3" y="591.5" textLength="14" lengthAdjust="spacingAndGlyphs">45-1</text>
<text x="1184.3" y="604.1" textLength="24" lengthAdjust="spacingAndGlyphs">YI7445</text>
<text x="1184.3" y="616.7" textLength="17" lengthAdjust="spacingAndGlyphs">65Mn</text>
<text x="1184.3" y="654.5" textLength="24" lengthAdjust="spacingAndGlyphs">Q235-B</text>
<text x="1184.3" y="667.1" textLength="17" lengthAdjust="spacingAndGlyphs">65Mn</text>
<!-- weights -->
<g font-size="10">
<text x="1243" y="478.1" textLength="19" lengthAdjust="spacingAndGlyphs">0.20</text><text x="1266.4" y="478.1" textLength="18" lengthAdjust="spacingAndGlyphs">0.20</text>
<text x="1243" y="515.9" textLength="19" lengthAdjust="spacingAndGlyphs">6.60</text><text x="1266.4" y="515.9" textLength="18" lengthAdjust="spacingAndGlyphs">6.60</text>
<text x="1243" y="553.7" textLength="19" lengthAdjust="spacingAndGlyphs">37.2</text><text x="1266.4" y="553.7" textLength="18" lengthAdjust="spacingAndGlyphs">37.2</text>
<text x="1243" y="566.3" textLength="19" lengthAdjust="spacingAndGlyphs">2.88</text><text x="1266.4" y="566.3" textLength="18" lengthAdjust="spacingAndGlyphs">2.88</text>
<text x="1243" y="578.9" textLength="19" lengthAdjust="spacingAndGlyphs">4.40</text><text x="1266.4" y="578.9" textLength="18" lengthAdjust="spacingAndGlyphs">4.40</text>
<text x="1243" y="591.5" textLength="19" lengthAdjust="spacingAndGlyphs">5.20</text><text x="1266.4" y="591.5" textLength="18" lengthAdjust="spacingAndGlyphs">5.20</text>
<text x="1243" y="654.5" textLength="19" lengthAdjust="spacingAndGlyphs">2.70</text><text x="1266.4" y="654.5" textLength="18" lengthAdjust="spacingAndGlyphs">2.70</text>
</g>
<!-- notes -->
<g font-size="5.5">
<text x="1288.5" y="439.5" textLength="46" lengthAdjust="spacingAndGlyphs">北京市华德液压件厂</text>
<text x="1288.5" y="452.1" textLength="46" lengthAdjust="spacingAndGlyphs">北京市华德液压件厂</text>
<text x="1288.5" y="464.7" textLength="46" lengthAdjust="spacingAndGlyphs">北京市华德液压件厂</text>
<text x="1288.5" y="603.3" textLength="46" lengthAdjust="spacingAndGlyphs">北京市华德液压件厂</text>
<text x="1288.5" y="640.6" textLength="46" lengthAdjust="spacingAndGlyphs" font-size="4.5">北京市华德液压件厂</text>
</g>
<text x="1288.5" y="490.7" textLength="13" lengthAdjust="spacingAndGlyphs">外购</text>
<text x="1288.5" y="503.3" textLength="13" lengthAdjust="spacingAndGlyphs">外购</text>
<text x="1288.5" y="528.5" textLength="13" lengthAdjust="spacingAndGlyphs">外购</text>
<text x="1288.5" y="541.1" textLength="13" lengthAdjust="spacingAndGlyphs">外购</text>
<text x="1288.5" y="616.7" textLength="13" lengthAdjust="spacingAndGlyphs">外购</text>
<text x="1288.5" y="629.3" textLength="13" lengthAdjust="spacingAndGlyphs">外购</text>
<text x="1288.5" y="667.1" textLength="13" lengthAdjust="spacingAndGlyphs">外购</text>
<text x="1288.5" y="679.7" textLength="13" lengthAdjust="spacingAndGlyphs">外购</text>
<text x="1288.5" y="692.3" textLength="13" lengthAdjust="spacingAndGlyphs">外购</text>
</g>

<!-- header -->
<g class="t" font-size="13">
<text x="990.5" y="709.5" textLength="24" lengthAdjust="spacingAndGlyphs">序号</text>
<text x="1017" y="709.5">图</text><text x="1045" y="709.5">号</text>
<text x="1084" y="709.5">名</text><text x="1118" y="709.5">称</text>
<text x="1193.4" y="709.5">材</text><text x="1216" y="709.5">料</text>
<text x="1289.6" y="709.5">附</text><text x="1325" y="709.5">注</text>
</g>
<g class="t" font-size="6.5">
<text x="1149.5" y="701.5" textLength="31" lengthAdjust="spacingAndGlyphs">单位数量</text>
<text x="1154" y="711.5" textLength="22" lengthAdjust="spacingAndGlyphs">数　量</text>
<text x="1240" y="701.5" textLength="18" lengthAdjust="spacingAndGlyphs">单 重</text>
<text x="1263.5" y="701.5" textLength="18" lengthAdjust="spacingAndGlyphs">总 重</text>
<text x="1246" y="711.5">重</text>
<text x="1269" y="711.5">量</text>
</g>
<!-- lower block text -->
<g class="t" font-size="6.5">
<text x="992" y="746.5" textLength="15" lengthAdjust="spacingAndGlyphs">标记</text>
<text x="1012" y="746.5" textLength="15" lengthAdjust="spacingAndGlyphs">处数</text>
<text x="1031" y="746.5" textLength="29" lengthAdjust="spacingAndGlyphs">更改文件号</text>
<text x="1063" y="746.5" textLength="20" lengthAdjust="spacingAndGlyphs">签 字</text>
<text x="1087" y="746.5" textLength="16" lengthAdjust="spacingAndGlyphs">日期</text>
<text x="1230.5" y="741.5" textLength="36" lengthAdjust="spacingAndGlyphs">图 样 标 记</text>
<text x="1282" y="741.5" textLength="21" lengthAdjust="spacingAndGlyphs">重 量</text>
<text x="1315" y="741.5" textLength="20" lengthAdjust="spacingAndGlyphs">比 例</text>
</g>
<g class="t" font-size="9.5">
<text x="995" y="768">校</text><text x="1014" y="768">核</text>
<text x="995" y="785">设</text><text x="1014" y="785">计</text>
<text x="1236" y="768.5">共</text><text x="1265" y="768.5">张</text><text x="1292" y="768.5">第</text><text x="1322" y="768.5">张</text>
</g>
<text class="n" x="1120" y="751" font-size="25" textLength="94" lengthAdjust="spacingAndGlyphs" font-family="'Noto Sans CJK SC',sans-serif">液动换向阀</text>
<text class="n" x="1284.5" y="759" font-size="17" textLength="16" lengthAdjust="spacingAndGlyphs">70</text>
<text class="n" x="1313" y="759" font-size="16" textLength="23" lengthAdjust="spacingAndGlyphs">1:2</text>
<g class="t" font-size="12.5">
<text x="999" y="805" textLength="19" lengthAdjust="spacingAndGlyphs">CAD</text>
<text x="1027" y="805">图</text><text x="1046" y="805">样</text><text x="1065" y="805">代</text><text x="1083" y="805">号</text>
</g>
<text class="n" x="1117" y="805.5" font-size="14" textLength="93" lengthAdjust="spacingAndGlyphs">MG00.11.19.01</text>
<g class="t" font-size="6.5">
<text x="1287" y="798.5" textLength="19" lengthAdjust="spacingAndGlyphs">版 图</text>
<text x="1287" y="806.5" textLength="19" lengthAdjust="spacingAndGlyphs">替 号</text>
</g>
</svg>
</body></html>
